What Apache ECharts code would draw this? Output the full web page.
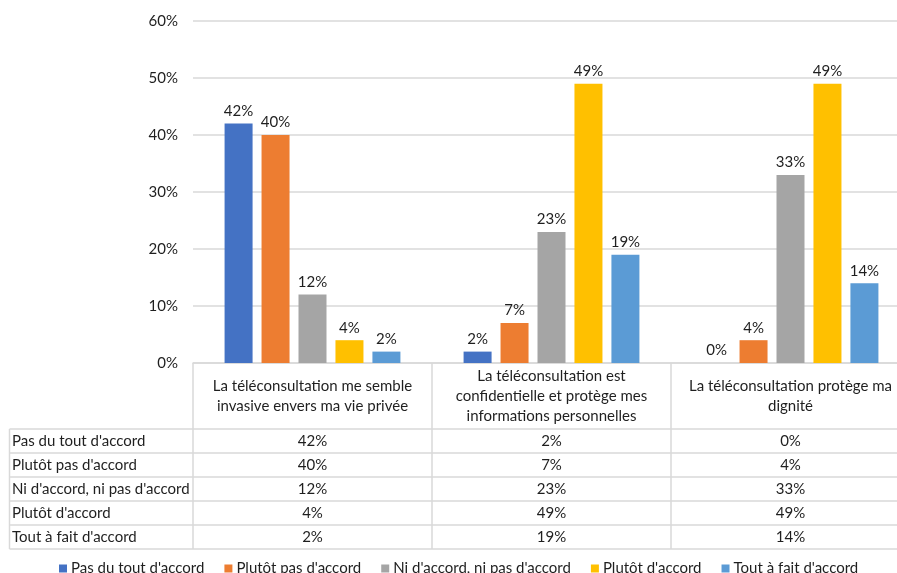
<!DOCTYPE html>
<html>
<head>
<meta charset="utf-8">
<script src="https://cdn.jsdelivr.net/npm/echarts@6/dist/echarts.min.js"></script>
<style>
  html, body { margin: 0; padding: 0; background: #fff; }
  #chart { width: 897px; height: 573px; }
</style>
</head>
<body>
<div id="chart"></div>
<script>
// Statements (line breaks mark where each header wraps)
const categories = [
  "La téléconsultation me semble\ninvasive envers ma vie privée",
  "La téléconsultation est\nconfidentielle et protège mes\ninformations personnelles",
  "La téléconsultation protège ma\ndignité"
];
const seriesNames = [
  "Pas du tout d'accord",
  "Plutôt pas d'accord",
  "Ni d'accord, ni pas d'accord",
  "Plutôt d'accord",
  "Tout à fait d'accord"
];
// Share of respondents (%) per answer, one value per statement
const pasDuTout   = [42, 2, 0];
const plutotPas   = [40, 7, 4];
const niNi        = [12, 23, 33];
const plutot      = [4, 49, 49];
const toutAFait   = [2, 19, 14];
const yTicks = [0, 10, 20, 30, 40, 50, 60];

const values = [pasDuTout, plutotPas, niNi, plutot, toutAFait];
const colors = ['#4472C4', '#ED7D31', '#A5A5A5', '#FFC000', '#5B9BD5'];

const FONT = 'Lato';
const FS = 15;
const TEXT = '#1f1f1f';
const LINE = '#D9D9D9';

const W = 897;
const gridLeft = 193, gridTop = 21, gridBottomY = 363;
const plotWidth = 717;          // three category bands, the last one runs past the right edge
const headerH = 66, rowH = 24;
const tableLeft = 9.5;

// Axis label = header (vertically centred in its band) + one data-table row per series
function labelFor(value, idx) {
  const lines = value.split('\n');
  const headLines = lines.length;
  let s = '{sp' + headLines + '| }\n';
  s += lines.map(l => '{h|' + l + '}').join('\n');
  s += '\n{sp' + headLines + '| }';
  values.forEach(arr => { s += '\n{v|' + arr[idx] + '%}'; });
  return s;
}

const chart = echarts.init(document.getElementById('chart'), null, { renderer: 'canvas' });

const tableLineYs = [];
for (let i = 0; i <= values.length; i++) tableLineYs.push(gridBottomY + headerH + i * rowH);

const graphics = [];
tableLineYs.forEach(y => {
  graphics.push({
    type: 'line', silent: true,
    shape: { x1: tableLeft, y1: y, x2: W, y2: y },
    style: { stroke: LINE, lineWidth: 1.5 }
  });
});
graphics.push({
  type: 'line', silent: true,
  shape: { x1: tableLeft, y1: tableLineYs[0], x2: tableLeft, y2: tableLineYs[tableLineYs.length - 1] },
  style: { stroke: LINE, lineWidth: 1.5 }
});
seriesNames.forEach((n, i) => {
  graphics.push({
    type: 'text', silent: true,
    x: 12, y: tableLineYs[i] + rowH / 2,
    style: { text: n, font: FS + 'px ' + FONT, fill: TEXT, verticalAlign: 'middle', align: 'left' }
  });
});

const headPad = n => (headerH - n * 20) / 2;

chart.setOption({
  animation: false,
  color: colors,
  textStyle: { fontFamily: FONT },
  grid: {
    left: gridLeft, width: plotWidth, top: gridTop, bottom: 573 - gridBottomY,
    containLabel: false,
    outerBoundsMode: 'none'
  },
  legend: {
    data: seriesNames,
    top: 556,
    left: 54,
    icon: 'rect',
    itemWidth: 8,
    itemHeight: 8,
    itemGap: 20,
    textStyle: { fontSize: FS, color: TEXT, fontFamily: FONT, padding: [0, 0, 0, -1] }
  },
  xAxis: {
    type: 'category',
    data: categories,
    axisLine: { show: true, lineStyle: { color: LINE, width: 1.5 } },
    axisTick: { show: true, alignWithLabel: false, length: headerH + values.length * rowH, lineStyle: { color: LINE, width: 1.5 } },
    axisLabel: {
      interval: 0,
      margin: 0,
      color: TEXT,
      fontFamily: FONT,
      fontSize: FS,
      align: 'center',
      verticalAlign: 'top',
      formatter: labelFor,
      rich: {
        sp2: { lineHeight: headPad(2), fontSize: 1 },
        sp3: { lineHeight: headPad(3), fontSize: 1 },
        h: { fontSize: FS, lineHeight: 20, color: TEXT, fontFamily: FONT },
        v: { fontSize: FS, lineHeight: rowH, color: TEXT, fontFamily: FONT }
      }
    }
  },
  yAxis: {
    type: 'value',
    min: yTicks[0],
    max: yTicks[yTicks.length - 1],
    interval: yTicks[1] - yTicks[0],
    axisLine: { show: false },
    axisTick: { show: false },
    splitLine: { lineStyle: { color: LINE, width: 1.5 } },
    axisLabel: { formatter: '{value}%', fontSize: FS, color: TEXT, fontFamily: FONT, margin: 15 }
  },
  series: seriesNames.map((name, i) => ({
    name: name,
    type: 'bar',
    data: values[i],
    barWidth: 28,
    barGap: '32%',
    itemStyle: { color: colors[i] },
    label: {
      show: true,
      position: 'top',
      distance: 5,
      formatter: '{c}%',
      fontSize: FS,
      color: TEXT,
      fontFamily: FONT
    }
  })),
  graphic: graphics
});
</script>
</body>
</html>
